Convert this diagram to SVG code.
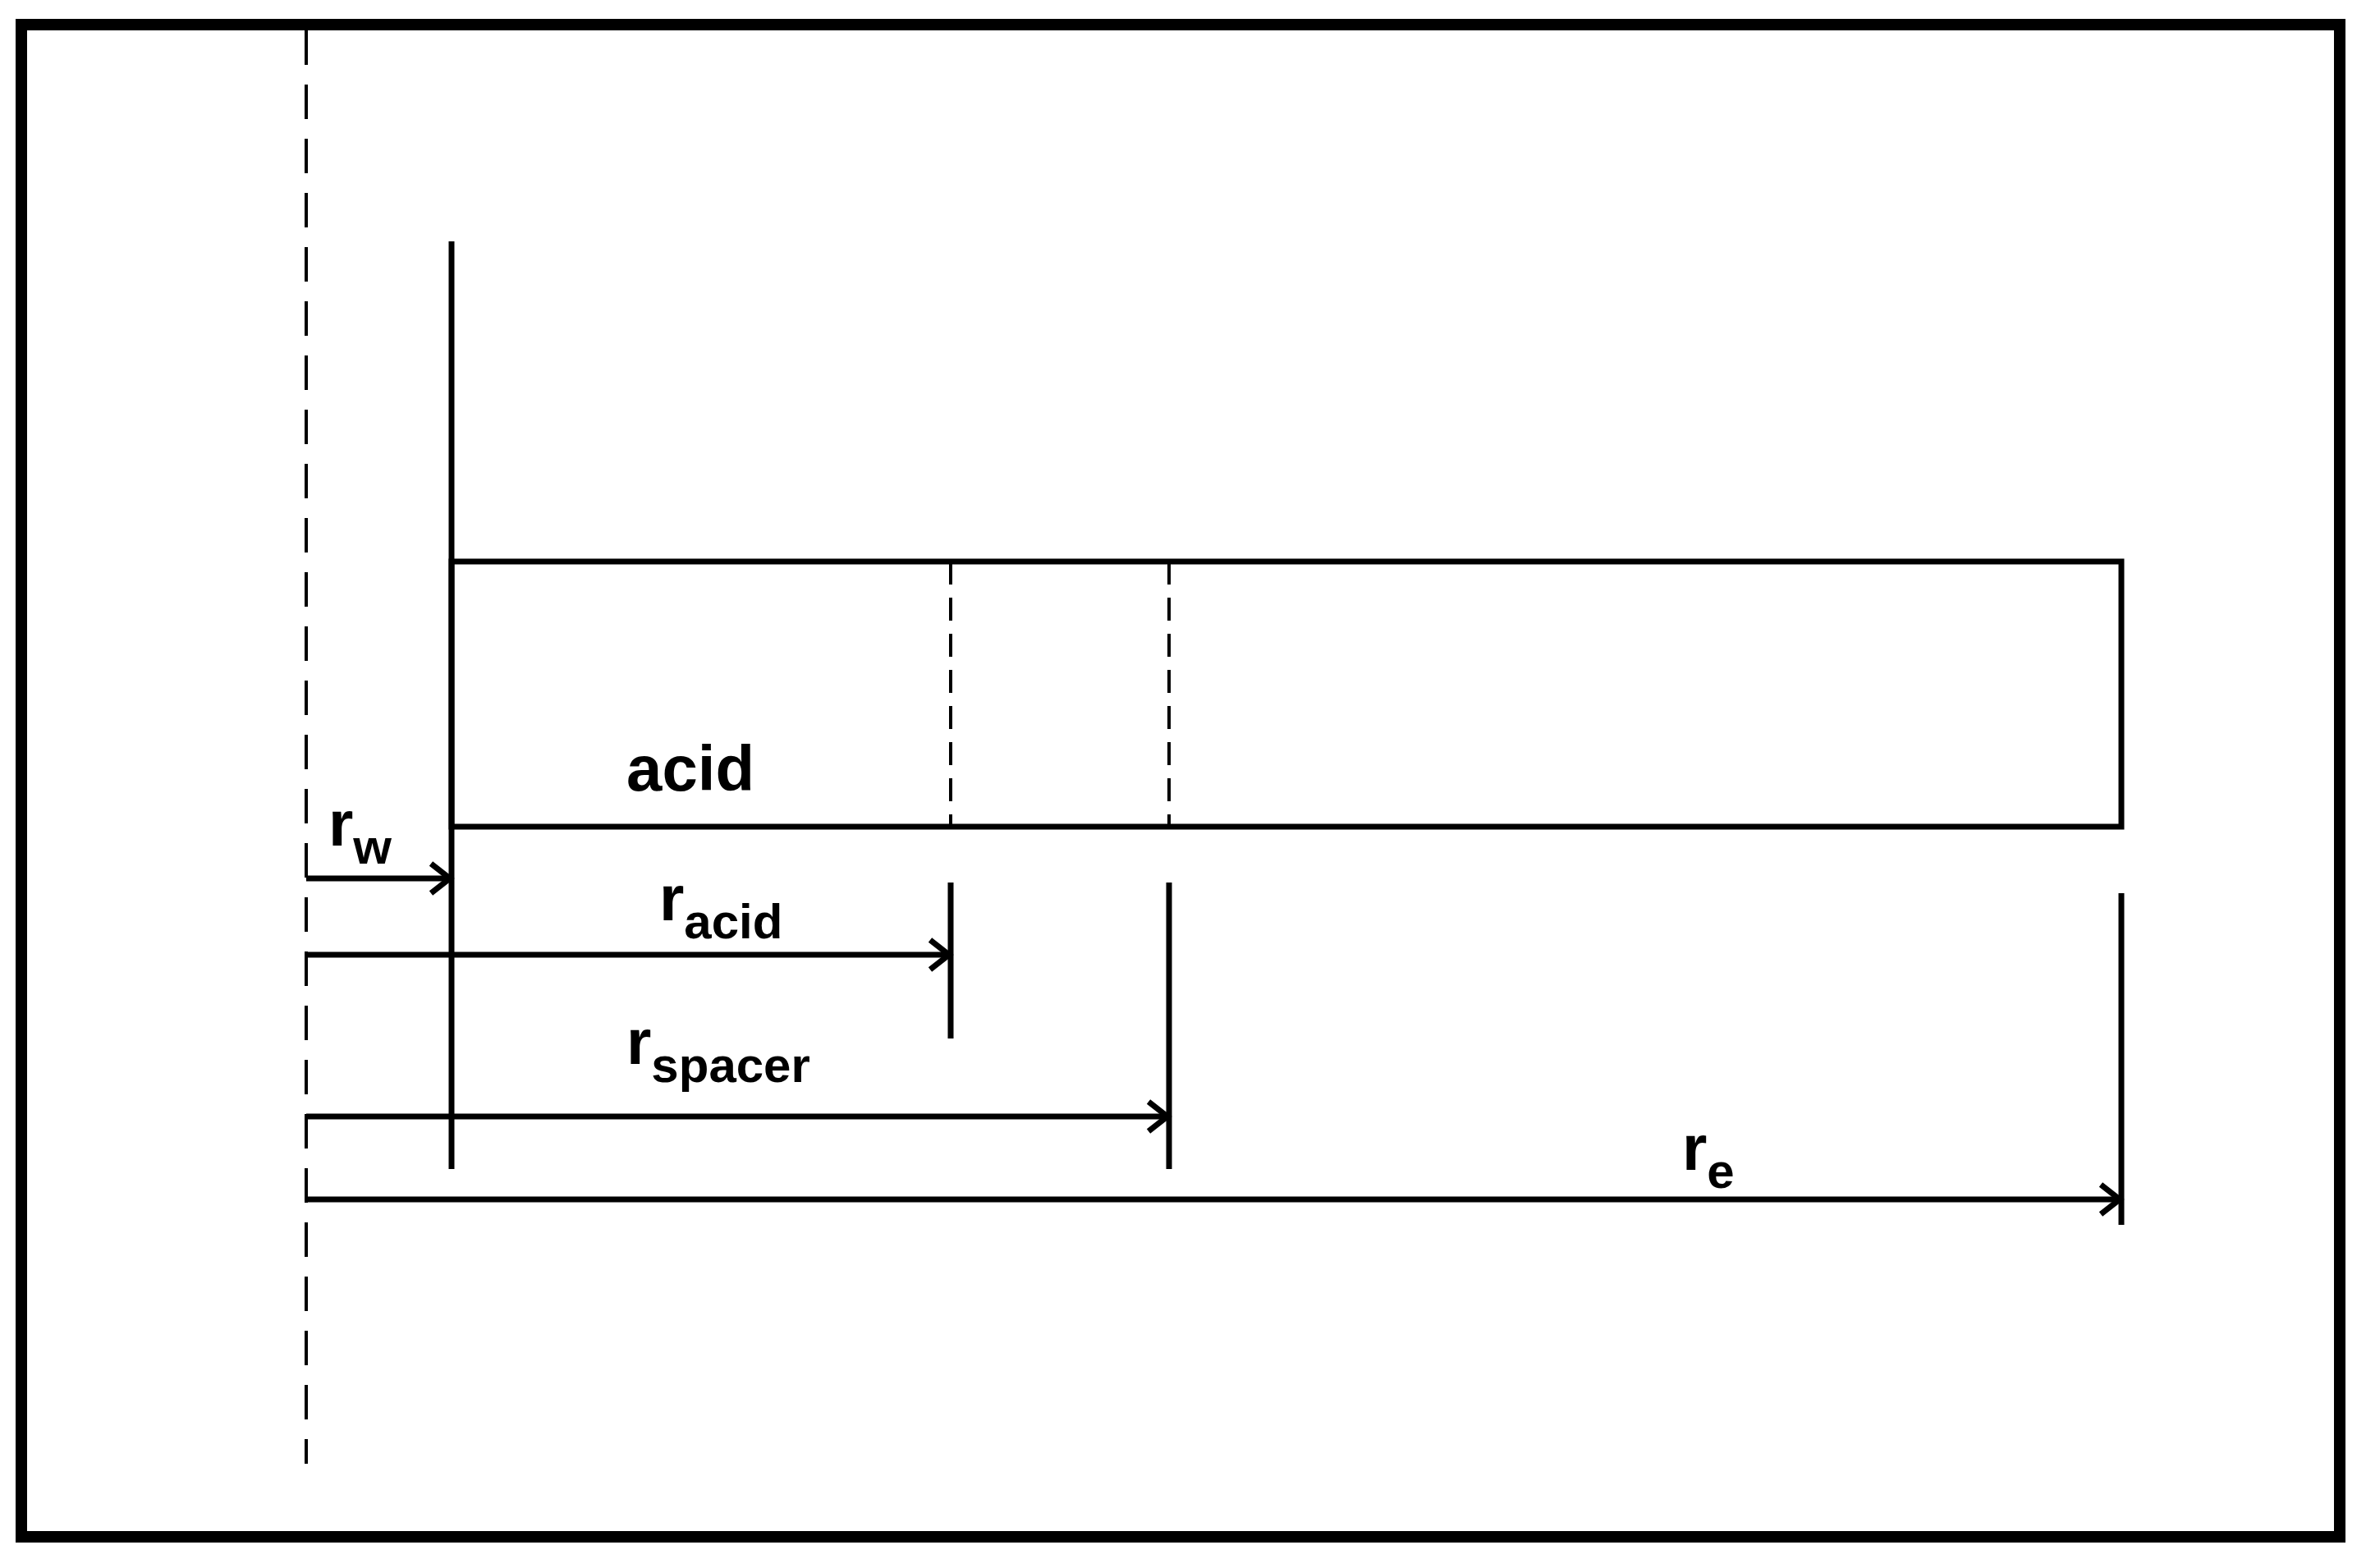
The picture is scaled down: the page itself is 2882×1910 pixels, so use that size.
<svg xmlns="http://www.w3.org/2000/svg" width="2882" height="1910" viewBox="0 0 2882 1910">
<style>
.l{stroke:#000;stroke-width:7;fill:none}
.d{stroke:#000;stroke-width:4;fill:none;stroke-dasharray:28,16}
.dc{stroke:#000;stroke-width:4;fill:none;stroke-dasharray:42,24}
.t{font-family:"Liberation Sans",Arial,sans-serif;font-weight:bold;font-size:78px;fill:#000}
.s{font-size:60px}
</style>
<rect width="2882" height="1910" fill="#fff"/>
<rect x="26" y="30" width="2824" height="1842" fill="none" stroke="#000" stroke-width="14"/>
<g id="centerline"><line x1="373" y1="37" x2="373" y2="1783" class="dc"/></g>
<g id="wall"><line x1="550" y1="294" x2="550" y2="1424" class="l"/></g>
<g id="rect"><rect x="550" y="684" width="2034" height="323" class="l"/>
<line x1="1158" y1="684" x2="1158" y2="1007" class="d"/>
<line x1="1424" y1="684" x2="1424" y2="1007" class="d"/>
<text x="763" y="963" class="t">acid</text></g>
<g id="ticks">
<line x1="1158" y1="1075" x2="1158" y2="1265" class="l"/>
<line x1="1424" y1="1075" x2="1424" y2="1424" class="l"/>
<line x1="2584" y1="1088" x2="2584" y2="1492" class="l"/>
</g>
<g id="connectors">
<line x1="373" y1="1070" x2="548" y2="1070" class="l"/><path d="M525,1052 L548,1070 L525,1088" class="l"/>
<line x1="373" y1="1163" x2="1156" y2="1163" class="l"/><path d="M1133,1145 L1156,1163 L1133,1181" class="l"/>
<line x1="373" y1="1360" x2="1422" y2="1360" class="l"/><path d="M1399,1342 L1422,1360 L1399,1378" class="l"/>
<line x1="373" y1="1461" x2="2582" y2="1461" class="l"/><path d="M2559,1443 L2582,1461 L2559,1479" class="l"/>
</g>
<g id="labels">
<text x="400" y="1030" class="t">r<tspan class="s" dy="22">w</tspan></text>
<text x="803" y="1121" class="t">r<tspan class="s" dy="22">acid</tspan></text>
<text x="763" y="1296" class="t">r<tspan class="s" dy="22">spacer</tspan></text>
<text x="2049" y="1425" class="t">r<tspan class="s" dy="22">e</tspan></text>
</g>
</svg>
